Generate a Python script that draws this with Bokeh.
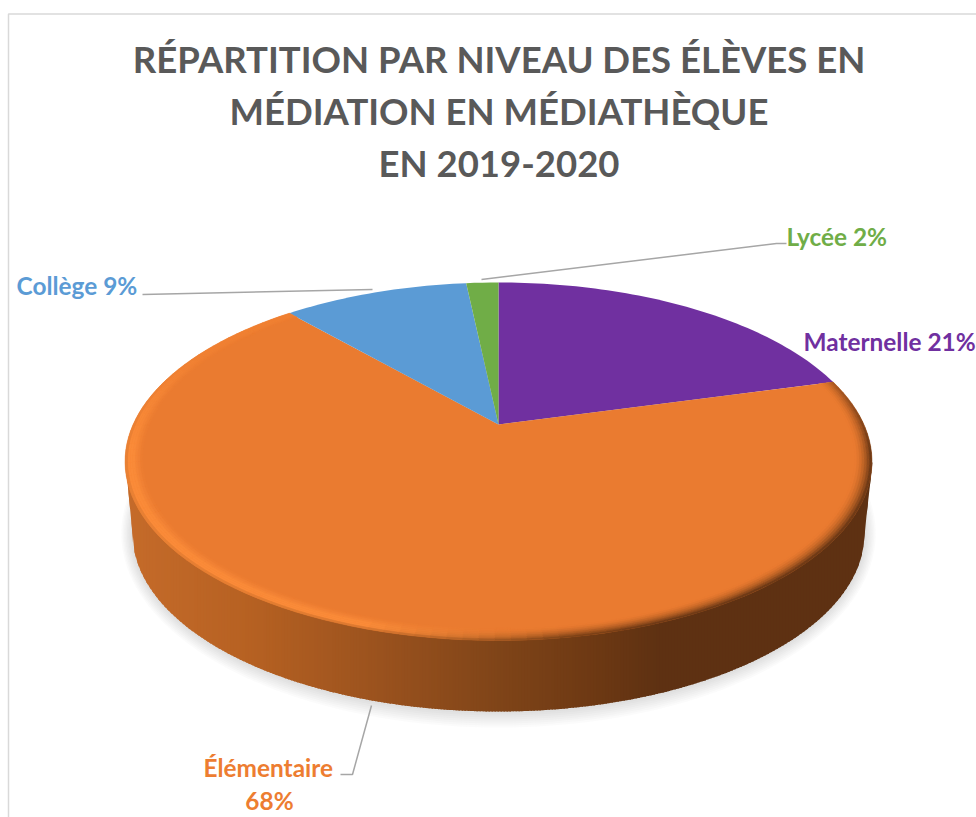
import numpy as np
from bokeh.plotting import figure
from bokeh.models import Range1d
from bokeh.core.properties import value
from bokeh.embed import file_html
from bokeh.resources import INLINE

# ---- data ----
categories = ["Maternelle", "Élémentaire", "Collège", "Lycée"]
shares = [20.8, 67.7, 9.8, 1.7]
face_colors = ["#7030A0", "#EA7B30", "#5B9BD5", "#70AD47"]
title_lines = ["RÉPARTITION PAR NIVEAU DES ÉLÈVES EN", "MÉDIATION EN MÉDIATHÈQUE", "EN 2019-2020"]
label_lines = ["Maternelle 21%", "Élémentaire", "68%", "Collège 9%", "Lycée 2%"]
label_colors = ["#7030A0", "#ED7D31", "#ED7D31", "#5B9BD5", "#70AD47"]

# ---- layout (page pixels) ----
W, H = 976, 817
FONT = value("Lato")
CX, CY = 498.0, 424.0
TILT = 0.2067
A, B = 365.4, 171.4
BOT_CY, BOT_RX, BOT_RY = 533.0, 366.0, 178.0


def proj(r, th):
    u, v = r * np.sin(th), r * np.cos(th)
    w = 1 + TILT * v
    return CX + A * u / w, CY - B * v / w


def hex2rgb(h):
    return np.array([int(h[i:i + 2], 16) for i in (1, 3, 5)], dtype=float)


def rgb2hex(c):
    return "#%02x%02x%02x" % tuple(int(round(x)) for x in np.clip(c, 0, 255))


SIDE_X = [125, 250, 380, 500, 600, 660, 880]
SIDE_C = np.array([hex2rgb(c) for c in ["#C56B2A", "#B66122", "#9A521E", "#7F4418", "#6C3813", "#5E3112", "#5E3112"]])


def side_color(x):
    return np.array([np.interp(x, SIDE_X, SIDE_C[:, i]) for i in range(3)])


p = figure(width=W, height=H, x_range=Range1d(0, W), y_range=Range1d(H, 0),
           output_backend="svg", toolbar_location=None,
           x_axis_location=None, y_axis_location=None, min_border=0)
p.grid.visible = False
p.outline_line_color = None

# chart frame
p.line([8, 8, 976], [817, 13.5, 13.5], line_color="#D9D9D9", line_width=1.5)

# soft shadow under the disc
tt = np.linspace(0, 2 * np.pi, 181)
for grow in range(16, 0, -2):
    p.patch(CX + (BOT_RX + grow * 0.7) * np.cos(tt), BOT_CY + (BOT_RY + grow) * np.sin(tt),
            fill_color="#8C8C8C", fill_alpha=0.035, line_color=None)

# side wall, vertical strips with a left-to-right gradient (each overlaps the next)
edges = np.arange(125, 873, 3.0)
xs, ys, cols = [], [], []


def bottom_y(x):
    left, right = CX - BOT_RX, CX + BOT_RX
    if x < left:
        return 462 + (x - 125) / (left - 125) * (BOT_CY - 462)
    if x > right:
        return 462 + max(0, 872 - x) / (872 - right) * (BOT_CY - 462)
    return BOT_CY + BOT_RY * np.sqrt(max(0, 1 - ((x - CX) / BOT_RX) ** 2))


for x0, x1 in zip(edges[:-1], edges[1:]):
    xe = x1 + 1.5
    xs.append([x0, xe, xe, x1, x0])
    ys.append([462, 462, bottom_y(xe), bottom_y(x1), bottom_y(x0)])
    cols.append(rgb2hex(side_color((x0 + x1) / 2)))
p.patches(xs, ys, fill_color=cols, line_color=None)

# top face wedges, clockwise from twelve o'clock
fractions = np.cumsum([0] + shares) / sum(shares) * 2 * np.pi
for i, col in enumerate(face_colors):
    th = np.linspace(fractions[i], fractions[i + 1], max(4, int(shares[i] * 3)))
    ax, ay = proj(1.0, th)
    p.patch(np.r_[CX, ax], np.r_[CY, ay], fill_color=col, line_color=None)

# bevel on the rim of the large wedge
face = hex2rgb(face_colors[1])
light = hex2rgb("#FA8B39")
rings = np.linspace(0.955, 1.0, 8)
angles = np.linspace(fractions[1], fractions[2], 121)
bx, by, bc = [], [], []
for r0, r1 in zip(rings[:-1], rings[1:]):
    t = ((r0 + r1) / 2 - rings[0]) / (rings[-1] - rings[0])
    for a0, a1 in zip(angles[:-1], angles[1:]):
        amid = (a0 + a1) / 2
        xm, _ = proj(1.0, amid)
        v = np.cos(amid)
        front = np.clip((0.45 - v) / 0.6, 0, 1)
        left = np.clip((560 - xm) / 200, 0, 1)
        side = side_color(xm)
        dark = face + (side - face) * t ** 1.8
        lit = face + (light - face) * min(1, t / 0.55) * (0.35 + 0.65 * front)
        if t > 0.8:
            lit = lit + (side - lit) * (t - 0.8) / 0.2 * 0.5 * front
        c = lit * left + dark * (1 - left)
        if left == 0:
            c = face + (dark - face) * (0.3 + 0.7 * front)
        x0, y0 = proj(r0, a0)
        x1, y1 = proj(r1, a0)
        x2, y2 = proj(r1, a1)
        x3, y3 = proj(r0, a1)
        bx.append([x0, x1, x2, x3])
        by.append([y0, y1, y2, y3])
        bc.append(rgb2hex(c))
p.patches(bx, by, fill_color=bc, line_color=bc, line_width=0.5)

# leader lines
LEADER = "#A6A6A6"
p.line([142, 372], [294, 289], line_color=LEADER, line_width=1.5)
p.line([481, 776, 786], [279, 243, 243], line_color=LEADER, line_width=1.5)
p.line([371, 352, 340], [705, 774, 774], line_color=LEADER, line_width=1.5)

# title
p.text([498.5] * 3, [58, 110, 162], text=title_lines, text_font=FONT, text_font_style="bold",
       text_font_size="36.5px", text_color="#595959", text_align="center", text_baseline="alphabetic")

# labels
p.text([803, 203, 269, 16, 786], [340.5, 767, 800, 284.5, 235.5], text=label_lines,
       text_font=FONT, text_font_style="bold", text_font_size="24.4px", text_color=label_colors,
       text_align=["left", "left", "center", "left", "left"], text_baseline="alphabetic")

open("out.html", "w").write(file_html(p, INLINE))
